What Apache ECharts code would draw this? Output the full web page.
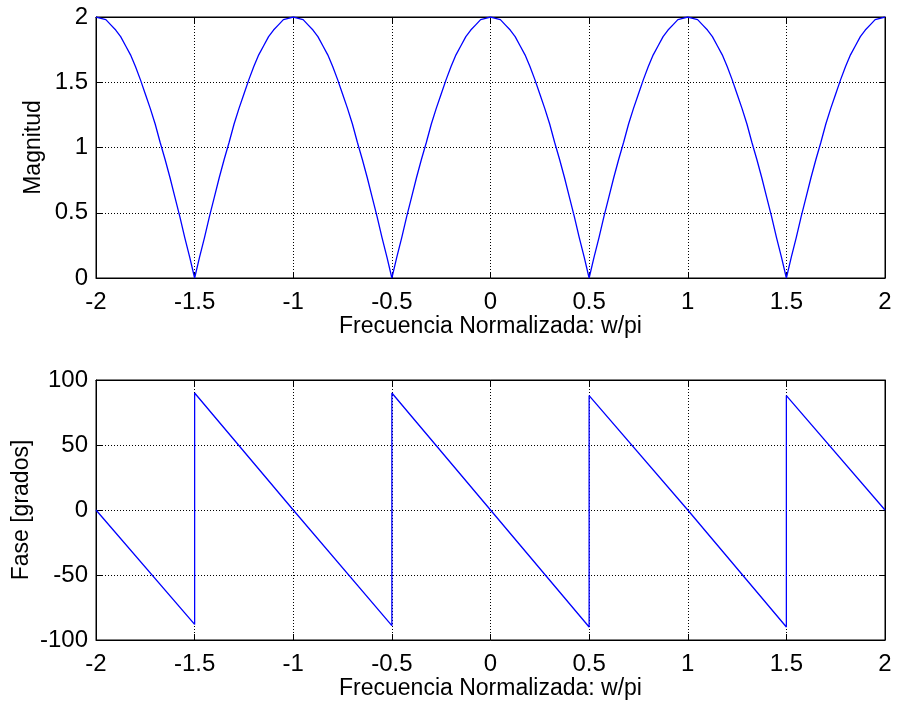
<!DOCTYPE html>
<html>
<head>
<meta charset="utf-8">
<script src="https://cdn.jsdelivr.net/npm/echarts@6/dist/echarts.min.js"></script>
<style>
  html, body { margin: 0; padding: 0; background: #fff; }
  #chart { width: 899px; height: 709px; }
</style>
</head>
<body>
<div id="chart"></div>
<script>
// ---------------------------------------------- datos leídos de la figura
// magnitud, muestreada cada 0.025 desde -2 hasta 2
var magStart = -2;
var magStep = 0.025;
var magY = [
  2.00, 1.99, 1.98, 1.94, 1.90, 1.85, 1.78, 1.71, 1.62, 1.52, 1.41, 1.30, 1.18, 1.04, 0.91, 0.77, 0.62, 0.47, 0.31, 0.16,
  0.00, 0.16, 0.31, 0.47, 0.62, 0.77, 0.91, 1.04, 1.18, 1.30, 1.41, 1.52, 1.62, 1.71, 1.78, 1.85, 1.90, 1.94, 1.98, 1.99,
  2.00, 1.99, 1.98, 1.94, 1.90, 1.85, 1.78, 1.71, 1.62, 1.52, 1.41, 1.30, 1.18, 1.04, 0.91, 0.77, 0.62, 0.47, 0.31, 0.16,
  0.00, 0.16, 0.31, 0.47, 0.62, 0.77, 0.91, 1.04, 1.18, 1.30, 1.41, 1.52, 1.62, 1.71, 1.78, 1.85, 1.90, 1.94, 1.98, 1.99,
  2.00, 1.99, 1.98, 1.94, 1.90, 1.85, 1.78, 1.71, 1.62, 1.52, 1.41, 1.30, 1.18, 1.04, 0.91, 0.77, 0.62, 0.47, 0.31, 0.16,
  0.00, 0.16, 0.31, 0.47, 0.62, 0.77, 0.91, 1.04, 1.18, 1.30, 1.41, 1.52, 1.62, 1.71, 1.78, 1.85, 1.90, 1.94, 1.98, 1.99,
  2.00, 1.99, 1.98, 1.94, 1.90, 1.85, 1.78, 1.71, 1.62, 1.52, 1.41, 1.30, 1.18, 1.04, 0.91, 0.77, 0.62, 0.47, 0.31, 0.16,
  0.00, 0.16, 0.31, 0.47, 0.62, 0.77, 0.91, 1.04, 1.18, 1.30, 1.41, 1.52, 1.62, 1.71, 1.78, 1.85, 1.90, 1.94, 1.98, 1.99,
  2.00
];
// fase: tramos rectos con saltos en ±0.5, ±1.5
var faseX = [-2, -1.5, -1.5, -1, -0.5, -0.5, 0, 0.5, 0.5, 1, 1.5, 1.5, 2];
var faseY = [0, -88, 90, 0, -89, 90, 0, -90, 88, 0, -90, 88, 0];

var xTicks = [-2, -1.5, -1, -0.5, 0, 0.5, 1, 1.5, 2];
var magTicks = [0, 0.5, 1, 1.5, 2];
var faseTicks = [-100, -50, 0, 50, 100];

!function () {
    var myChart = echarts.init(document.getElementById("chart"));
    var font = "'Liberation Sans', Arial, sans-serif";
    var fs = 24;     // etiquetas de los ticks
    var fsName = 23; // títulos de los ejes

    var magData = magY.map(function (v, i) {
        return [+(magStart + i * magStep).toFixed(3), v];
    });
    var faseData = faseX.map(function (x, i) { return [x, faseY[i]]; });

    // eje base (estilo matlab: caja negra, ticks hacia dentro, rejilla punteada)
    function eje(gridIndex, ticks, extra) {
        var ax = {
            type: 'value',
            gridIndex: gridIndex,
            min: ticks[0],
            max: ticks[ticks.length - 1],
            interval: ticks[1] - ticks[0],
            axisLine: { show: true, onZero: false, lineStyle: { color: '#000', width: 1 } },
            axisTick: { show: true, inside: true, length: 6, lineStyle: { color: '#000' } },
            axisLabel: { color: '#000', fontSize: fs, fontFamily: font },
            splitLine: {
                show: true,
                showMinLine: false,
                showMaxLine: false,
                lineStyle: { color: '#000', type: [1, 2], width: 1 }
            },
            nameTextStyle: { color: '#000', fontSize: fsName, fontFamily: font }
        };
        for (var k in extra) ax[k] = extra[k];
        return ax;
    }

    // copia sin etiquetas para los ticks de arriba / derecha
    function espejo(gridIndex, ticks, pos) {
        return eje(gridIndex, ticks, {
            position: pos,
            axisLabel: { show: false },
            splitLine: { show: false }
        });
    }

    function ejeX(gridIndex, gap) {
        return eje(gridIndex, xTicks, {
            position: 'bottom',
            name: 'Frecuencia Normalizada: w/pi',
            nameLocation: 'middle',
            nameGap: gap,
            axisLabel: { color: '#000', fontSize: fs, fontFamily: font, margin: 12 }
        });
    }

    function ejeY(gridIndex, ticks, nombre, gap) {
        return eje(gridIndex, ticks, {
            position: 'left',
            name: nombre,
            nameLocation: 'middle',
            nameGap: gap,
            nameMoveOverlap: false,
            axisLabel: { color: '#000', fontSize: fs, fontFamily: font, margin: 8 }
        });
    }

    var option = {
        animation: false,
        backgroundColor: '#fff',
        grid: [
            { left: 96, right: 14, top: 17, height: 261, show: true, borderColor: '#000', borderWidth: 1,
              containLabel: false, outerBoundsMode: 'none' },
            { left: 96, right: 14, top: 380, height: 260, show: true, borderColor: '#000', borderWidth: 1,
              containLabel: false, outerBoundsMode: 'none' }
        ],
        xAxis: [
            ejeX(0, 32),
            ejeX(1, 35),
            espejo(0, xTicks, 'top'),
            espejo(1, xTicks, 'top')
        ],
        yAxis: [
            ejeY(0, magTicks, 'Magnitud', 51),
            ejeY(1, faseTicks, 'Fase [grados]', 63),
            espejo(0, magTicks, 'right'),
            espejo(1, faseTicks, 'right')
        ],
        series: [
            {
                type: 'line',
                xAxisIndex: 0,
                yAxisIndex: 0,
                data: magData,
                showSymbol: false,
                lineStyle: { color: '#0000ff', width: 1.3 },
                z: 5
            },
            {
                type: 'line',
                xAxisIndex: 1,
                yAxisIndex: 1,
                data: faseData,
                showSymbol: false,
                lineStyle: { color: '#0000ff', width: 1.3 },
                z: 5
            }
        ]
    };
    myChart.setOption(option);
}()
</script>
</body>
</html>
